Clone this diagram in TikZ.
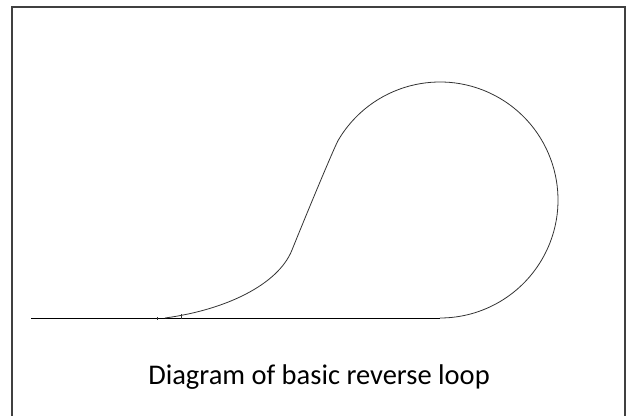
\documentclass[tikz,border=0pt]{standalone}
\usepackage{fontspec}
\setmainfont{Carlito}
\begin{document}
\begin{tikzpicture}[x=1pt,y=1pt,
  frame/.style={draw=black!75, line width=1.4pt},
  track/.style={draw=black!80, line width=0.8pt},
  tick/.style={draw=black!80, line width=0.6pt}]
\useasboundingbox (0,0) rectangle (628,415);
\fill[white] (0,0) rectangle (628,415);
\draw[frame] (12,-10) rectangle (625,408);
% straight track
\draw[track, draw=black] (31,97) -- (440,97);
% loop
\draw[track] (165,97) .. controls (225,105) and (278,130) .. (292,165)
  .. controls (300,185) and (330,258) .. (337.8,274)
  arc[start angle=150, end angle=-90, radius=118pt];
% ticks
\draw[tick] (157,95.5) -- (157,98.5);
\draw[tick] (181,96) -- (181,101.5);
\node[font=\fontsize{28.5}{32}\selectfont, inner sep=0pt] (caption) at (319,38) {Diagram of basic reverse loop};
\end{tikzpicture}
\end{document}
